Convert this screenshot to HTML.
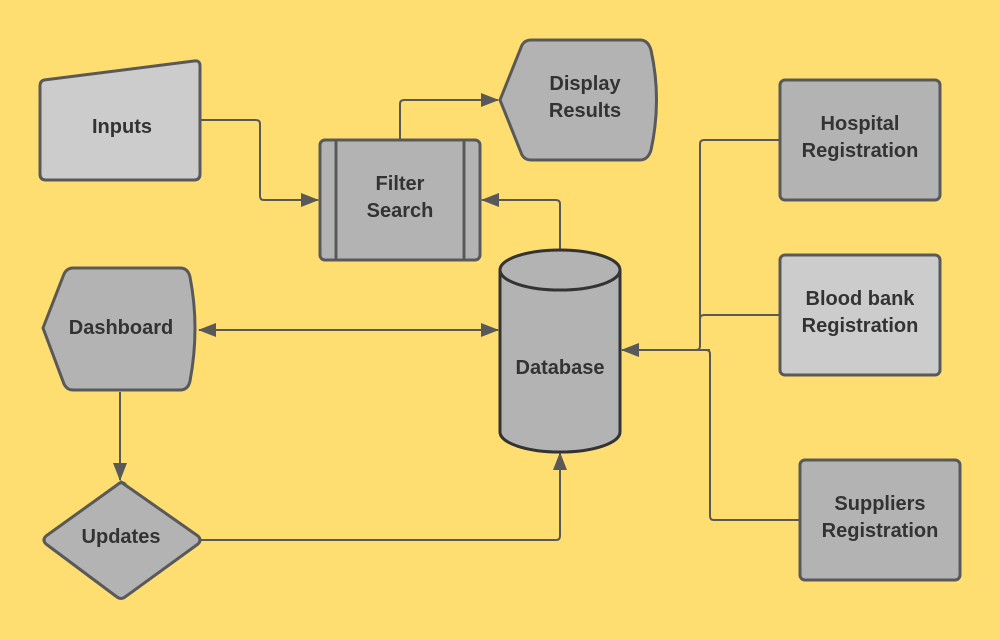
<!DOCTYPE html>
<html><head><meta charset="utf-8"><style>
html,body{margin:0;padding:0;background:#FFDE71;}
svg{display:block}
text{font-family:"Liberation Sans",sans-serif;font-weight:bold;font-size:20px;fill:#333;text-anchor:middle}
</style></head><body>
<svg width="1000" height="640" viewBox="0 0 1000 640" xmlns="http://www.w3.org/2000/svg">
<defs>
<marker id="a" markerWidth="10" markerHeight="10" refX="9" refY="5" orient="auto" markerUnits="userSpaceOnUse" viewBox="0 0 10 10">
<path d="M0,0 L10,5 L0,10 z" fill="#595959" transform="scale(1)"/>
</marker>
<marker id="b" markerWidth="18" markerHeight="14" refX="17" refY="7" orient="auto-start-reverse" markerUnits="userSpaceOnUse">
<path d="M0,0 L18,7 L0,14 z" fill="#595959"/>
</marker>
</defs>
<g fill="none" stroke="#595959" stroke-width="2">
<path d="M200,120 H256 Q260,120 260,124 V196 Q260,200 264,200 H318" marker-end="url(#b)"/>
<path d="M400,140 V104 Q400,100 404,100 H498" marker-end="url(#b)"/>
<path d="M560,250 V204 Q560,200 556,200 H482" marker-end="url(#b)"/>
<path d="M199,330 H498" marker-start="url(#b)" marker-end="url(#b)"/>
<path d="M120,392 V480" marker-end="url(#b)"/>
<path d="M200,540 H556 Q560,540 560,536 V453" marker-end="url(#b)"/>
<path d="M780,140 H704 Q700,140 700,144 V346 Q700,350 696,350"/>
<path d="M780,315 H704 Q700,315 700,319"/>
<path d="M800,520 H714 Q710,520 710,516 V354 Q710,350 706,350"/>
<path d="M710,350 H622" marker-end="url(#b)"/>
</g>
<g stroke="#595959" stroke-width="3" stroke-linejoin="round">
<path d="M44,80 L194,61 Q200,60 200,66 V174 Q200,180 194,180 H46 Q40,180 40,174 V86 Q40,81 44,80 Z" fill="#CCCCCC"/>
<rect x="320" y="140" width="160" height="120" rx="5" fill="#B3B3B3"/>
<line x1="336" y1="141" x2="336" y2="259"/>
<line x1="464" y1="141" x2="464" y2="259"/>
<path d="M500,100 L522,45 Q525,40 531,40 H640 Q648,40 651,50 Q662,100 651,150 Q648,160 640,160 H531 Q525,160 522,155 Z" fill="#B3B3B3"/>
<path d="M43,328 L64,274 Q67,268 73,268 H180 Q188,268 190,277 Q200,328 190,381 Q188,390 180,390 H73 Q67,390 64,384 Z" fill="#B3B3B3"/>
<path d="M121,482 L198,536 Q202,540 198,544 L125,597 Q121,600 117,597 L46,544 Q42,540 46,536 L117,485 Q121,481 125,484 Z" fill="#B3B3B3"/>
<rect x="780" y="80" width="160" height="120" rx="5" fill="#B3B3B3"/>
<rect x="780" y="255" width="160" height="120" rx="5" fill="#CCCCCC"/>
<rect x="800" y="460" width="160" height="120" rx="5" fill="#B3B3B3"/>
</g>
<g stroke="#333" stroke-width="3" fill="#B3B3B3">
<path d="M500,270 V432 A60,20 0 0 0 620,432 V270 A60,20 0 0 0 500,270 Z"/>
<path d="M500,270 A60,20 0 0 0 620,270" fill="none"/>
</g>
<text x="122" y="133">Inputs</text>
<text x="400" y="190">Filter</text>
<text x="400" y="217">Search</text>
<text x="585" y="90">Display</text>
<text x="585" y="117">Results</text>
<text x="121" y="334">Dashboard</text>
<text x="560" y="374">Database</text>
<text x="121" y="543">Updates</text>
<text x="860" y="130">Hospital</text>
<text x="860" y="157">Registration</text>
<text x="860" y="305">Blood bank</text>
<text x="860" y="332">Registration</text>
<text x="880" y="510">Suppliers</text>
<text x="880" y="537">Registration</text>
</svg>
</body></html>
